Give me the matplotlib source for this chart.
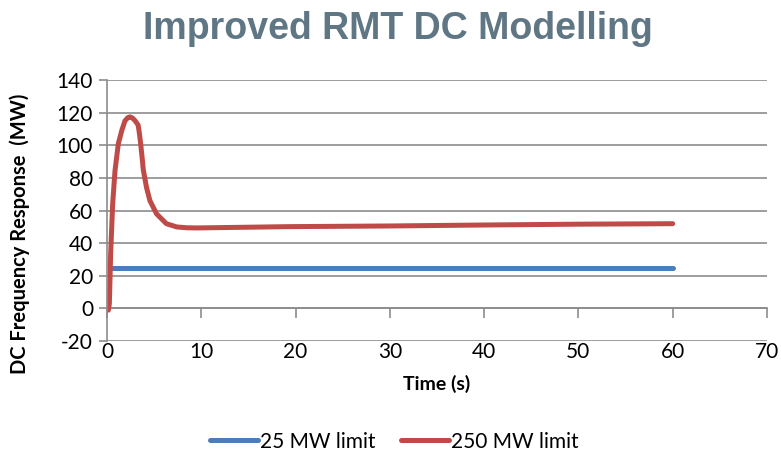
import matplotlib.pyplot as plt

# values
time_25 = [0.3, 60]
resp_25 = [25, 25]

time_250 = [0.15, 0.25, 0.39, 0.6, 0.85, 1.2, 1.56, 1.9, 2.2, 2.44, 2.7, 3.0, 3.3,
            3.42, 3.55, 3.7, 3.85, 4.2, 4.56, 5.26, 6.3, 7.4, 8.5, 9.5, 12, 19.4,
            30, 40, 50, 60]
resp_250 = [-1, 3, 34, 64, 84.5, 101, 109, 115, 117, 117.5, 116.8, 115, 112.5,
            108, 102, 94, 85, 74, 66, 58, 52, 50, 49.5, 49.4, 49.6, 50.2,
            50.6, 51.2, 51.7, 52]

xticks = [0, 10, 20, 30, 40, 50, 60, 70]
yticks = [-20, 0, 20, 40, 60, 80, 100, 120, 140]

blue = "#4a7ebb"
red = "#be4b48"
grid = "#8c8c8c"

plt.rcParams['font.family'] = ['Lato', 'DejaVu Sans']
plt.rcParams['axes.unicode_minus'] = False

fig = plt.figure(figsize=(7.81, 4.53), dpi=100)
ax = fig.add_axes([0.137, 0.247, 0.845, 0.576])

ax.plot(time_25, resp_25, color=blue, lw=3.6, solid_capstyle='round', label="25 MW limit")
ax.plot(time_250, resp_250, color=red, lw=3.6, solid_capstyle='round',
        solid_joinstyle='round', label="250 MW limit")

ax.set_xlim(0, 70)
ax.set_ylim(-20, 140)
ax.set_xticks(xticks)
ax.set_yticks(yticks)
ax.grid(axis='y', color=grid, lw=1.2)
ax.set_axisbelow(True)

for s in ['top', 'right', 'bottom']:
    ax.spines[s].set_visible(False)
ax.spines['left'].set_color(grid)
ax.spines['left'].set_linewidth(1.2)

ax.tick_params(axis='y', length=6, color=grid, width=1.2, labelsize=15, pad=4)
ax.tick_params(axis='x', length=0, labelsize=15, pad=1)

# x axis line crosses at y = 0, labels stay at the bottom
sec = ax.secondary_xaxis(20 / 160)
sec.set_xticks(xticks)
sec.tick_params(axis='x', length=7, color=grid, width=1.2, direction='out', labelbottom=False,
                labeltop=False, bottom=True, top=False)
sec.spines['bottom'].set_color(grid)
sec.spines['bottom'].set_linewidth(1.2)

ax.set_xlabel("Time (s)", fontsize=14, fontweight='bold', labelpad=9)
ax.set_ylabel("DC Frequency Response  (MW)", fontsize=14.5, fontweight='bold')
ax.yaxis.set_label_coords(-0.117, 0.41)

fig.text(0.51, 0.935, "Improved RMT DC Modelling", ha='center', va='center',
         fontsize=27, fontweight='bold', color="#5f7684",
         family=['Liberation Sans', 'DejaVu Sans'])

fig.legend(loc='center', bbox_to_anchor=(0.505, 0.025), ncol=2, frameon=False,
           fontsize=15, handlelength=2.3, columnspacing=1.2, handletextpad=0.1)

fig.savefig("out.png", dpi=100)
